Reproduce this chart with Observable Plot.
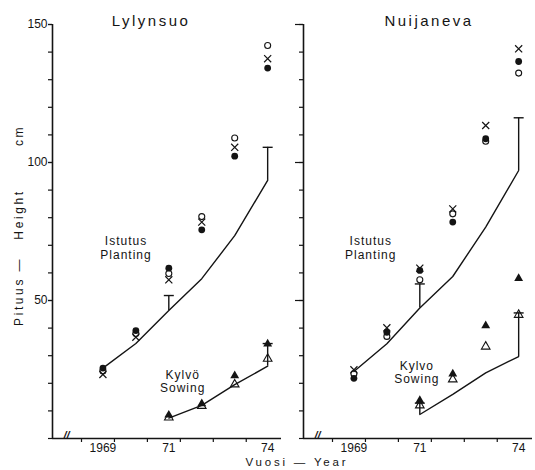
<!DOCTYPE html>
<html>
<head>
<meta charset="utf-8">
<script src="https://cdn.jsdelivr.net/npm/d3@7"></script>
<script src="https://cdn.jsdelivr.net/npm/@observablehq/plot@0.6"></script>
<style>
  html, body { margin: 0; padding: 0; background: #fff; }
  #chart svg { display: block; }
</style>
</head>
<body>
<div id="chart"></div>
<script>
// ---- Data ----
const sites = ["Lylynsuo", "Nuijaneva"];
const plantYears = [1969, 1970, 1971, 1972, 1973, 1974];
const sowYears = [1971, 1972, 1973, 1974];

// Lylynsuo — Istutus / Planting
const lylPlantMean   = [25.5, 34.4, 46.4, 57.9, 73.5, 93.5];
const lylPlantOpen   = [24.5, 38.0, 59.8, 80.4, 108.9, 142.4];
const lylPlantCross  = [23.2, 36.7, 57.5, 78.4, 105.5, 137.6];
const lylPlantFilled = [25.5, 39.1, 61.7, 75.6, 102.3, 134.2];
// Lylynsuo — Kylvö / Sowing
const lylSowMean     = [7.4, 12.0, 19.5, 26.2];
const lylSowFilled   = [8.5, 12.6, 22.8, 34.3];
const lylSowOpen     = [7.6, 11.8, 19.6, 28.9];

// Nuijaneva — Istutus / Planting
const nuiPlantMean   = [24.3, 34.3, 47.3, 58.7, 76.6, 97.1];
const nuiPlantOpen   = [23.5, 37.0, 57.5, 81.4, 107.7, 132.4];
const nuiPlantCross  = [24.9, 40.1, 61.7, 83.2, 113.4, 141.2];
const nuiPlantFilled = [21.8, 38.5, 60.9, 78.4, 108.6, 136.6];
// Nuijaneva — Kylvo / Sowing
const nuiSowMean     = [8.7, 16.0, 23.8, 29.7];
const nuiSowFilled   = [13.8, 23.4, 40.9, 58.0];
const nuiSowOpen     = [12.0, 21.4, 33.3, 44.8];

// Error bars (upper whisker tops)
const errSite  = ["Lylynsuo", "Lylynsuo", "Lylynsuo", "Nuijaneva", "Nuijaneva", "Nuijaneva", "Nuijaneva"];
const errGroup = ["plant", "plant", "sow", "plant", "plant", "sow", "sow"];
const errYear  = [1971, 1974, 1974, 1971, 1974, 1971, 1974];
const errTop   = [51.8, 105.5, 34.4, 56.0, 116.2, 12.8, 45.5];

// Axis ticks
const yTicks = d3.range(0, 151, 10);
const yLabelTicks = [50, 100, 150];
const xLabelTicks = [1969, 1971, 1974];
const xMinorTicks = [1968.35, 1969.35, 1970.35, 1971.35, 1972.35, 1973.35];

// Annotations
const annSite   = ["Lylynsuo", "Lylynsuo", "Nuijaneva", "Nuijaneva"];
const annText   = ["Istutus\nPlanting", "Kylvö\nSowing", "Istutus\nPlanting", "Kylvo\nSowing"];
const annYear   = [1969.70, 1971.42, 1969.51, 1970.91];
const annHeight = [69.2, 20.8, 69.2, 24.1];

// ---- Build tables ----
function series(site, group, kind, xs, vs) {
  return xs.map((x, i) => ({site, group, kind, year: x, value: vs[i]}));
}
const meanRows = [
  ...series(sites[0], "plant", "mean", plantYears, lylPlantMean),
  ...series(sites[0], "sow", "mean", sowYears, lylSowMean),
  ...series(sites[1], "plant", "mean", plantYears, nuiPlantMean),
  ...series(sites[1], "sow", "mean", sowYears, nuiSowMean)
];
const pointRows = [
  ...series(sites[0], "plant", "open", plantYears, lylPlantOpen),
  ...series(sites[0], "plant", "cross", plantYears, lylPlantCross),
  ...series(sites[0], "plant", "filled", plantYears, lylPlantFilled),
  ...series(sites[0], "sow", "triOpen", sowYears, lylSowOpen),
  ...series(sites[0], "sow", "triFilled", sowYears, lylSowFilled),
  ...series(sites[1], "plant", "open", plantYears, nuiPlantOpen),
  ...series(sites[1], "plant", "cross", plantYears, nuiPlantCross),
  ...series(sites[1], "plant", "filled", plantYears, nuiPlantFilled),
  ...series(sites[1], "sow", "triOpen", sowYears, nuiSowOpen),
  ...series(sites[1], "sow", "triFilled", sowYears, nuiSowFilled)
];
const errRows = errSite.map((s, i) => {
  const base = meanRows.find(d => d.site === s && d.group === errGroup[i] && d.year === errYear[i]).value;
  return {site: s, year: errYear[i], base, top: errTop[i]};
});
const annRows = annSite.map((s, i) => ({site: s, text: annText[i], year: annYear[i], value: annHeight[i]}));

const kind = k => pointRows.filter(d => d.kind === k);
const capSymbol = {
  draw(ctx, size) { const r = Math.sqrt(size / Math.PI); ctx.moveTo(-r, 0); ctx.lineTo(r, 0); }
};
const ink = "#141414";
const xDomain = [1967.47, 1974.42];

const yTitle = {fx: () => sites[0], frameAnchor: "left", textAnchor: "middle", rotate: -90, dx: -33, fontSize: 12, fill: ink};

const chart = Plot.plot({
  width: 535,
  height: 470,
  marginLeft: 51,
  marginRight: 2,
  marginTop: 24,
  marginBottom: 32,
  style: {fontFamily: "'Liberation Sans', Arial, Helvetica, sans-serif", fontSize: "12px", color: ink, background: "#fff"},
  fx: {domain: sites, paddingInner: 0.0873, paddingOuter: 0, axis: null, label: null},
  x: {domain: xDomain},
  y: {domain: [0, 150]},
  marks: [
    // axis lines
    Plot.ruleX([xDomain[0]], {stroke: ink, strokeWidth: 1.6}),
    Plot.ruleY([0], {stroke: ink, strokeWidth: 1.6}),
    // y ticks
    Plot.axisY({ticks: yTicks, tickSize: 4, tickFormat: () => "", label: null, facetAnchor: null, stroke: ink, strokeWidth: 1.2}),
    Plot.axisY({ticks: yLabelTicks, tickSize: 4, tickPadding: 1, label: null, fontSize: 12, fill: ink, stroke: ink, strokeWidth: 1.2}),
    Plot.axisY({ticks: yLabelTicks, tickSize: 8, tickFormat: () => "", label: null, facetAnchor: "right", stroke: ink, strokeWidth: 1.2}),
    // x ticks
    Plot.axisX({ticks: xMinorTicks, tickSize: 4, tickFormat: () => "", label: null, facetAnchor: null, stroke: ink, strokeWidth: 1.2}),
    Plot.axisX({ticks: xLabelTicks, tickSize: 0, tickPadding: 5, label: null, facetAnchor: null, fontSize: 12, fill: ink,
      tickFormat: d => d === 1969 ? "1969" : String(d).slice(2)}),
    // axis break
    Plot.text(["//"], {frameAnchor: "bottom-left", dx: 11, dy: 0, fontSize: 11, fontWeight: "bold", fill: ink, fontStyle: "italic"}),
    // mean curves
    Plot.line(meanRows, {fx: "site", x: "year", y: "value", z: d => d.site + d.group, stroke: ink, strokeWidth: 1.4}),
    // error bars
    Plot.ruleX(errRows, {fx: "site", x: "year", y1: "base", y2: "top", stroke: ink, strokeWidth: 1.4}),
    Plot.dot(errRows, {fx: "site", x: "year", y: "top", symbol: capSymbol, r: 5, stroke: ink, strokeWidth: 1.4}),
    // points
    Plot.dot(kind("open"), {fx: "site", x: "year", y: "value", symbol: "circle", r: 3, stroke: ink, fill: "none", strokeWidth: 1.1}),
    Plot.dot(kind("cross"), {fx: "site", x: "year", y: "value", symbol: "times", r: 3.3, stroke: ink, strokeWidth: 1.2}),
    Plot.dot(kind("filled"), {fx: "site", x: "year", y: "value", symbol: "circle", r: 3.4, fill: ink, stroke: "none"}),
    Plot.dot(kind("triOpen"), {fx: "site", x: "year", y: "value", symbol: "triangle", r: 3.2, stroke: ink, fill: "none", strokeWidth: 1.1}),
    Plot.dot(kind("triFilled"), {fx: "site", x: "year", y: "value", symbol: "triangle", r: 3.3, fill: ink, stroke: "none"}),
    // annotations
    Plot.text(annRows, {fx: "site", x: "year", y: "value", text: "text", fontSize: 12, lineHeight: 1.12, fill: ink}),
    // titles
    Plot.text([sites[0]], {fx: d => d, text: d => d, frameAnchor: "top", dx: -16, dy: -9, fontSize: 15, fill: ink}),
    Plot.text([sites[1]], {fx: d => d, text: d => d, frameAnchor: "top", dx: 11, dy: -9, fontSize: 15, fill: ink}),
    // y axis title pieces
    Plot.text(["Pituus"], {...yTitle, dy: 70}),
    Plot.text(["—"], {...yTitle, dy: 34}),
    Plot.text(["Height"], {...yTitle, dy: -17}),
    Plot.text(["cm"], {...yTitle, dy: -96}),
    // x axis title
    Plot.text(["Vuosi — Year"], {fx: () => sites[0], frameAnchor: "bottom-right", textAnchor: "start", dx: -36, dy: 27, fontSize: 11.5, fill: ink})
  ]
});

document.getElementById("chart").appendChild(chart);

// letter spacing to mimic the spaced lettering of the original
const svg = d3.select(chart);
svg.selectAll("text").each(function() {
  const t = this.textContent;
  const el = d3.select(this);
  if (t === "Lylynsuo" || t === "Nuijaneva") el.style("letter-spacing", "2.5px");
  else if (t === "Pituus" || t === "Height" || t === "cm") el.style("letter-spacing", "2.6px");
  else if (t.startsWith("Vuosi")) el.style("letter-spacing", "2.8px");
  else if (/Istutus|Planting|Kylv|Sowing/.test(t)) el.style("letter-spacing", "1px");
});
</script>
</body>
</html>
